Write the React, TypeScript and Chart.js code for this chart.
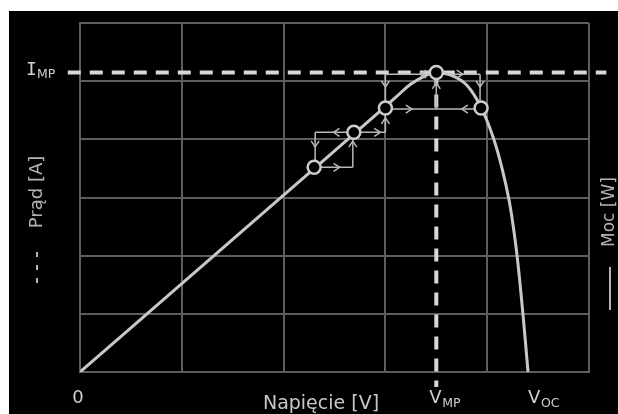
import React, { useEffect, useRef } from "react";
import { Chart, registerables } from "chart.js";

Chart.register(...registerables);

// P-V curve (voltage in grid units, power in grid units)
const curveV = [0, 1, 2, 2.9, 3.1, 3.25, 3.4, 3.5, 3.65, 3.8, 3.94, 4.067, 4.15, 4.214, 4.261, 4.298, 4.352, 4.401];
const curveP = [0, 1.52, 3.04, 4.41, 4.72, 4.95, 5.1, 5.15, 5.1, 4.93, 4.55, 3.99, 3.47, 2.96, 2.44, 1.93, 0.98, 0];

// perturb & observe operating points
const trackV = [2.3, 2.69, 3.0, 3.5, 3.94];
const trackP = [3.52, 4.12, 4.54, 5.15, 4.54];

const V_MP = 3.5;
const I_MP = 5.15;
const V_OC = 4.4;

// step segments [x1, y1, x2, y2]
const stepSegments = [
  [2.3, 3.52, 2.68, 3.52],
  [2.68, 3.52, 2.68, 4.0],
  [2.31, 4.12, 3.0, 4.12],
  [2.31, 4.12, 2.31, 3.63],
  [3.0, 4.12, 3.0, 4.42],
  [3.0, 5.12, 3.0, 4.66],
  [3.0, 5.12, 3.93, 5.12],
  [3.93, 5.12, 3.93, 4.66],
  [3.0, 4.52, 3.93, 4.52],
  [3.5, 4.52, 3.5, 5.02],
];

// arrow heads [x, y, direction]
const arrowHeads: [number, number, string][] = [
  [2.55, 3.52, "r"],
  [2.68, 3.97, "u"],
  [2.49, 4.12, "l"],
  [2.31, 3.87, "d"],
  [2.95, 4.12, "r"],
  [3.0, 4.37, "u"],
  [3.0, 4.9, "d"],
  [3.34, 5.12, "l"],
  [3.76, 5.12, "r"],
  [3.93, 4.9, "d"],
  [3.26, 4.52, "r"],
  [3.75, 4.52, "l"],
  [3.5, 4.97, "u"],
];

const FONT = "'DejaVu Sans', Verdana, sans-serif";

const annotPlugin = {
  id: "annot",
  afterDatasetsDraw(chart: any) {
    const { ctx, scales } = chart;
    const xs = scales.x;
    const ys = scales.y;
    ctx.save();
    ctx.strokeStyle = "#b8b8b8";
    ctx.lineWidth = 1.5;
    arrowHeads.forEach(([v, p, d]) => {
      const x = xs.getPixelForValue(v);
      const y = ys.getPixelForValue(p);
      const L = 6, W = 4;
      ctx.beginPath();
      if (d === "r") { ctx.moveTo(x - L, y - W); ctx.lineTo(x, y); ctx.lineTo(x - L, y + W); }
      if (d === "l") { ctx.moveTo(x + L, y - W); ctx.lineTo(x, y); ctx.lineTo(x + L, y + W); }
      if (d === "u") { ctx.moveTo(x - W, y + L); ctx.lineTo(x, y); ctx.lineTo(x + W, y + L); }
      if (d === "d") { ctx.moveTo(x - W, y - L); ctx.lineTo(x, y); ctx.lineTo(x + W, y - L); }
      ctx.stroke();
    });
    ctx.restore();
  },
  afterDraw(chart: any) {
    const { ctx, scales, chartArea } = chart;
    const xs = scales.x;
    const ys = scales.y;
    const bottom = chartArea.bottom;
    ctx.save();
    ctx.fillStyle = "#d0d0d0";
    ctx.textBaseline = "alphabetic";
    ctx.textAlign = "left";

    // I_MP
    const iy = ys.getPixelForValue(I_MP);
    ctx.font = `18px 'DejaVu Sans Mono', monospace`;
    ctx.fillText("I", 17, iy + 3);
    ctx.font = `12.5px ${FONT}`;
    ctx.fillText("MP", 28, iy + 6);

    // V_MP
    const vmx = xs.getPixelForValue(V_MP);
    ctx.font = `18px ${FONT}`;
    ctx.fillText("V", vmx - 7, bottom + 31);
    ctx.font = `12.5px ${FONT}`;
    ctx.fillText("MP", vmx + 6, bottom + 35);

    // V_OC
    const vox = xs.getPixelForValue(V_OC);
    ctx.font = `18px ${FONT}`;
    ctx.fillText("V", vox, bottom + 31);
    ctx.font = `12.5px ${FONT}`;
    ctx.fillText("OC", vox + 13, bottom + 35);

    // zero
    ctx.textAlign = "center";
    ctx.font = `18px ${FONT}`;
    ctx.fillText("0", xs.getPixelForValue(0) - 2, bottom + 31);

    // x title
    ctx.fillStyle = "#c8c8c8";
    ctx.font = `19px ${FONT}`;
    ctx.fillText("Napięcie [V]", 312, bottom + 37);

    // left rotated label
    ctx.fillStyle = "#b4b4b4";
    ctx.save();
    ctx.translate(28, 181);
    ctx.rotate(-Math.PI / 2);
    ctx.textBaseline = "middle";
    ctx.font = `18px ${FONT}`;
    ctx.fillText("Prąd [A]", 0, 0);
    ctx.restore();
    ctx.strokeStyle = "#b4b4b4";
    ctx.lineWidth = 2;
    [[241, 246], [254, 259], [267, 272]].forEach(([a, b]) => {
      ctx.beginPath();
      ctx.moveTo(28, a);
      ctx.lineTo(28, b);
      ctx.stroke();
    });

    // right rotated label
    ctx.save();
    ctx.translate(601, 201);
    ctx.rotate(-Math.PI / 2);
    ctx.textBaseline = "middle";
    ctx.textAlign = "center";
    ctx.font = `17px ${FONT}`;
    ctx.fillText("Moc [W]", 0, 0);
    ctx.restore();
    ctx.beginPath();
    ctx.moveTo(601, 256);
    ctx.lineTo(601, 299);
    ctx.stroke();

    ctx.restore();
  },
};

export default function App() {
  const ref = useRef<HTMLCanvasElement | null>(null);
  useEffect(() => {
    if (!ref.current) return;
    const gridColor = "#5e5e5e";
    const datasets: any[] = [];
    datasets.push({
      data: trackV.map((v, i) => ({ x: v, y: trackP[i] })),
      showLine: false,
      pointRadius: 6.5,
      pointBorderWidth: 2.5,
      pointBackgroundColor: "#000",
      pointBorderColor: "#cccccc",
      order: 0,
    });
    datasets.push({
      data: curveV.map((v, i) => ({ x: v, y: curveP[i] })),
      borderColor: "#c8c8c8",
      borderWidth: 3,
      pointRadius: 0,
      tension: 0.4,
      order: 2,
    });
    stepSegments.forEach((s) => {
      datasets.push({
        data: [{ x: s[0], y: s[1] }, { x: s[2], y: s[3] }],
        borderColor: "#b8b8b8",
        borderWidth: 1.5,
        pointRadius: 0,
        order: 3,
      });
    });
    datasets.push({
      data: [{ x: -0.12, y: I_MP }, { x: 5.17, y: I_MP }],
      borderColor: "#d8d8d8",
      borderWidth: 4,
      borderDash: [13, 9],
      pointRadius: 0,
      clip: false,
      order: 4,
    });
    datasets.push({
      data: [{ x: V_MP, y: I_MP }, { x: V_MP, y: -0.26 }],
      borderColor: "#d8d8d8",
      borderWidth: 4,
      borderDash: [13, 9],
      pointRadius: 0,
      clip: false,
      order: 4,
    });

    const chart = new Chart(ref.current, {
      type: "line",
      data: { datasets },
      options: {
        animation: false,
        responsive: false,
        maintainAspectRatio: false,
        layout: { padding: { left: 71, top: 12, right: 29, bottom: 42 } },
        plugins: { legend: { display: false }, tooltip: { enabled: false } },
        scales: {
          x: {
            type: "linear",
            min: 0,
            max: 5,
            ticks: { display: false, stepSize: 1 },
            grid: { color: gridColor, lineWidth: 2, drawTicks: false },
            border: { display: true, color: gridColor, width: 2 },
          },
          y: {
            type: "linear",
            min: 0,
            max: 6,
            ticks: { display: false, stepSize: 1 },
            grid: { color: gridColor, lineWidth: 2, drawTicks: false },
            border: { display: true, color: gridColor, width: 2 },
          },
        },
      },
      plugins: [annotPlugin],
    });
    return () => chart.destroy();
  }, []);

  return (
    <div style={{ position: "absolute", left: 9, top: 11, width: 609, height: 403, background: "#000" }}>
      <canvas ref={ref} width={609} height={403} style={{ display: "block" }} />
    </div>
  );
}
